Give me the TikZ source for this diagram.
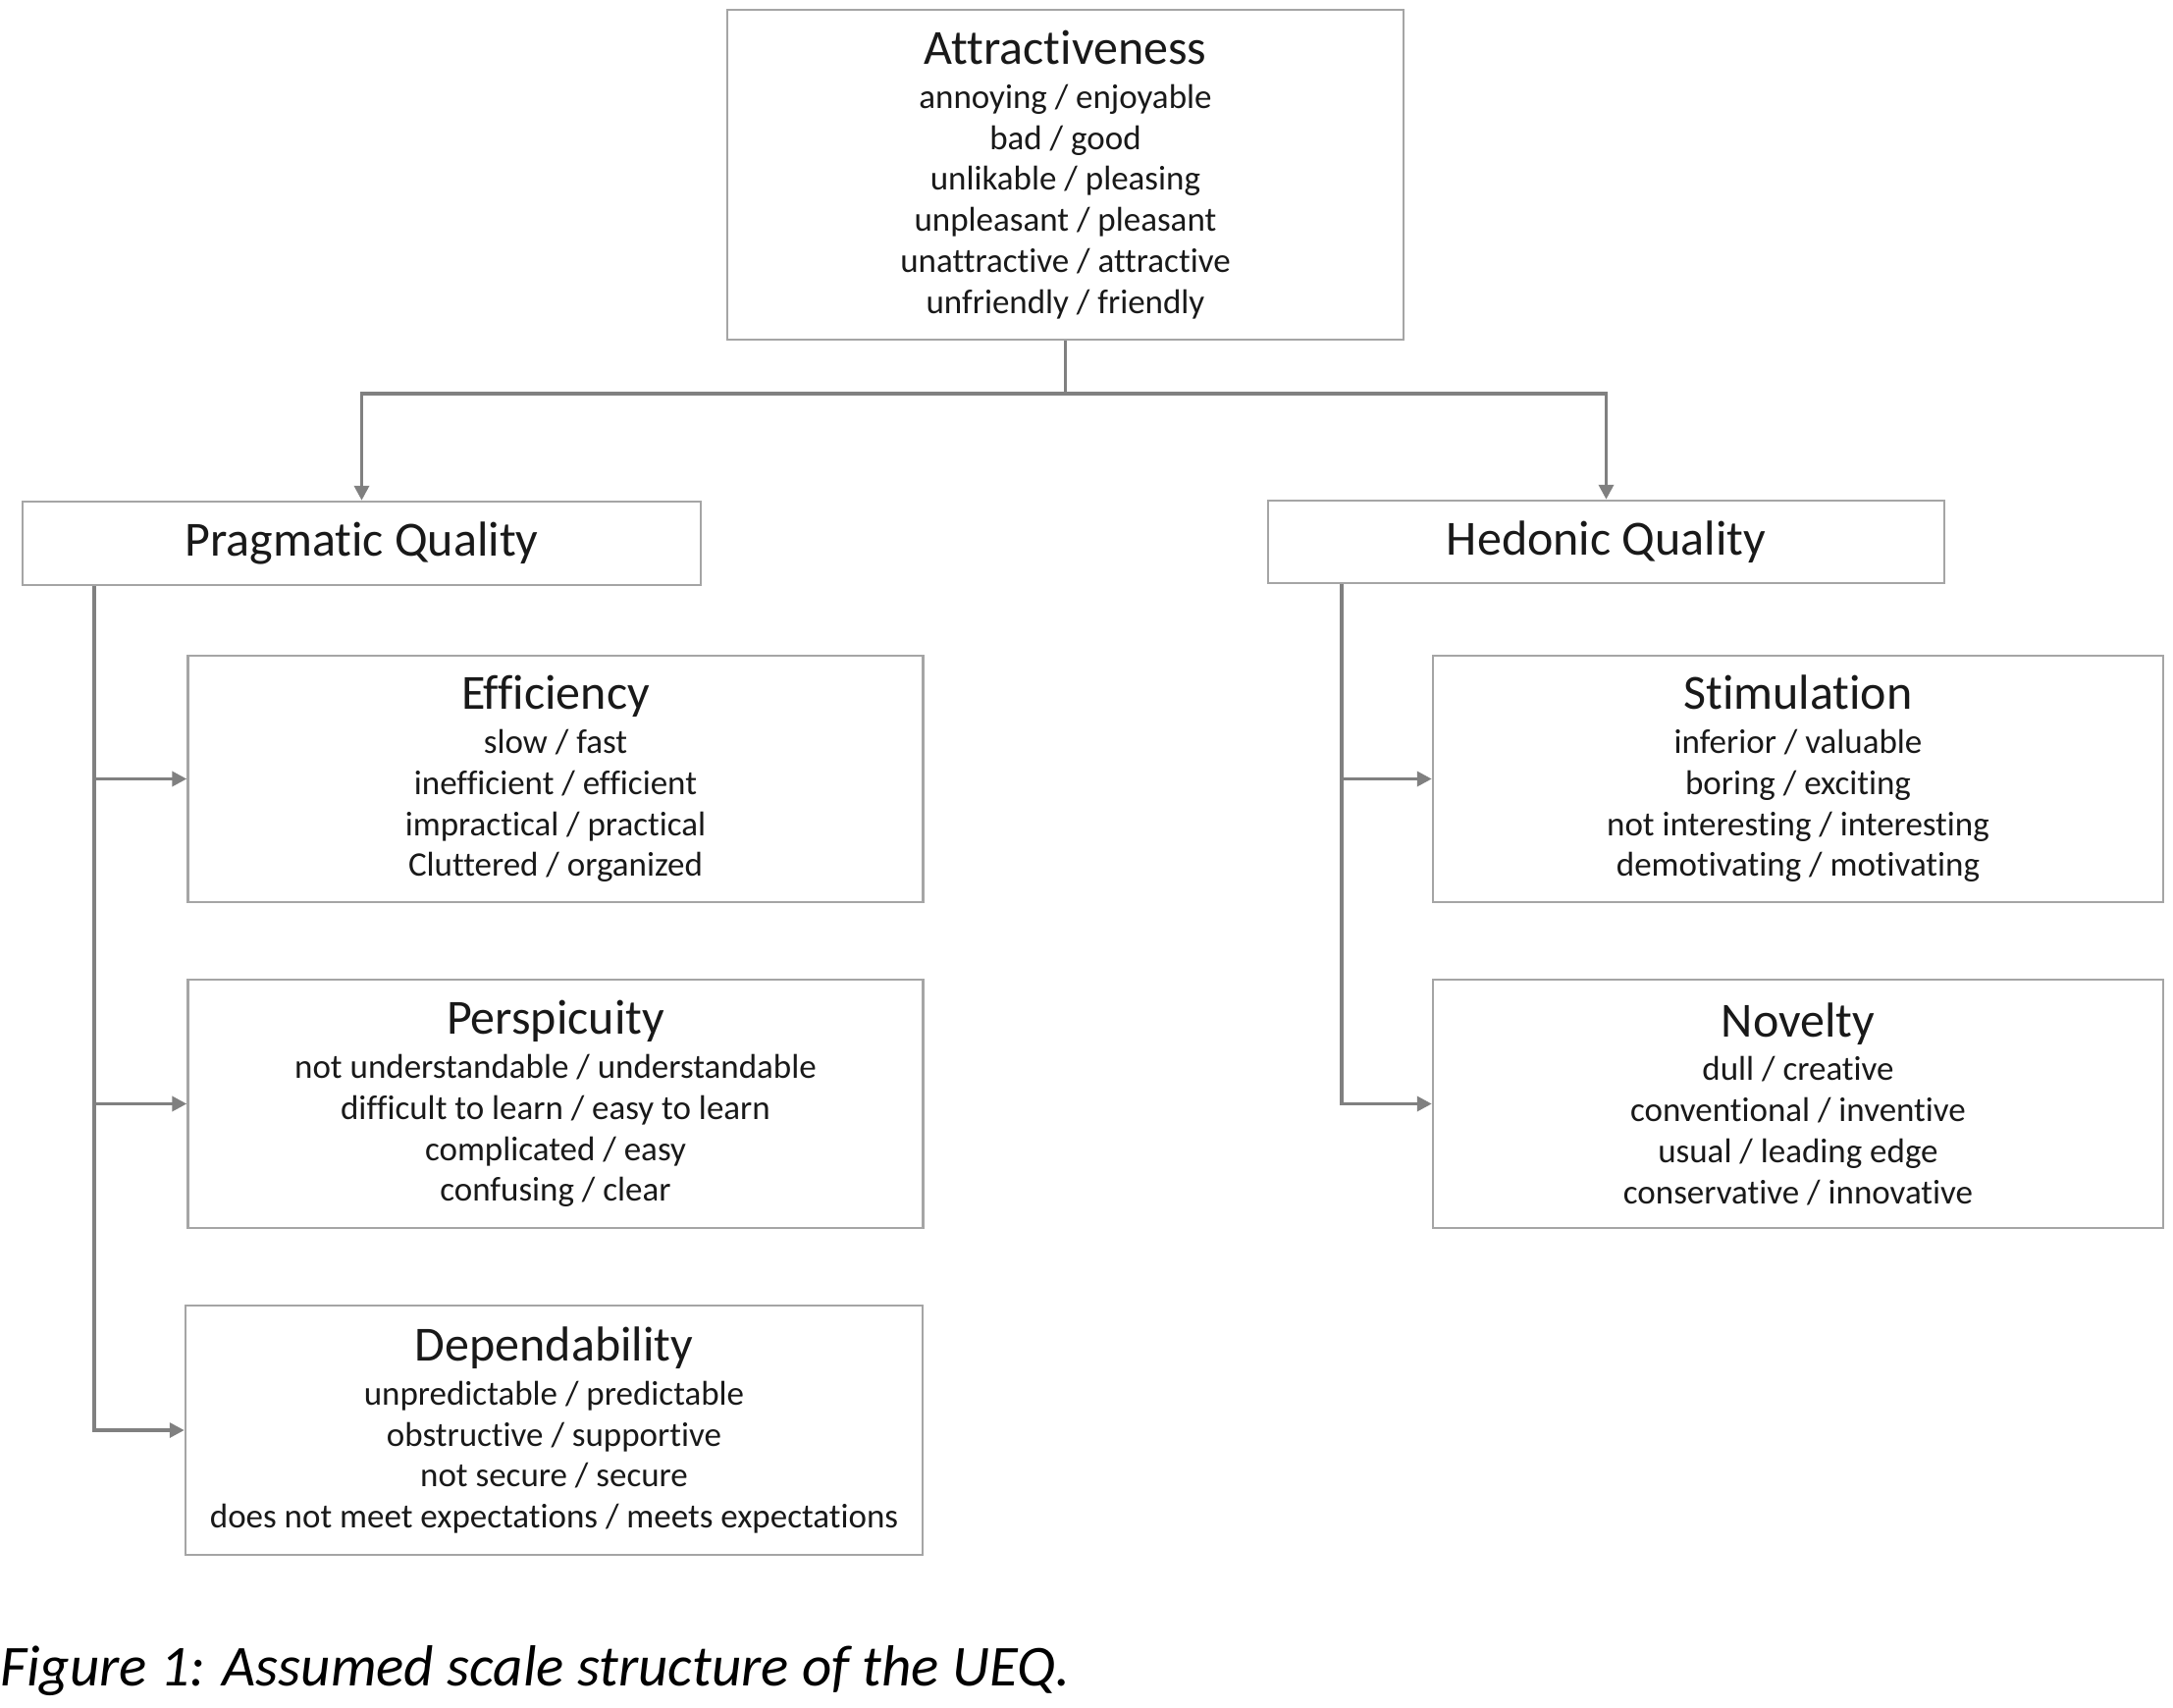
\documentclass[tikz,border=0pt]{standalone}
\usepackage{fontspec}
\setmainfont[Ligatures=NoCommon]{Carlito}
\usetikzlibrary{arrows.meta}
\definecolor{boxgray}{RGB}{165,165,165}
\definecolor{linegray}{RGB}{128,128,128}
\newcommand{\ttl}[1]{{\fontsize{50}{54}\selectfont #1}}
\tikzset{
  box/.style={draw=boxgray, line width=2.5pt, fill=white, inner sep=0pt, align=center,
    font=\fontsize{35}{41.8}\selectfont, text=black!90},
  conn/.style={draw=linegray, line width=3.5pt},
  arr/.style={conn, -{Triangle[length=15pt,width=15pt]}},
}
\begin{document}
\begin{tikzpicture}[x=1pt,y=-1pt]
\useasboundingbox (0,0) rectangle (2214,1740);
\fill[white] (0,0) rectangle (2214,1740);

\node[box, minimum width=689, minimum height=336] (attr) at (1085.5,178)
  {\ttl{Attractiveness}\\[3pt] annoying / enjoyable\\ bad / good\\ unlikable / pleasing\\ unpleasant / pleasant\\ unattractive / attractive\\ unfriendly / friendly};

\node[box, minimum width=691, minimum height=85] (prag) at (368.5,553.5) {\ttl{Pragmatic Quality}};
\node[box, minimum width=689, minimum height=84] (hed) at (1636.5,552) {\ttl{Hedonic Quality}};

\node[box, minimum width=749, minimum height=251] (eff) at (566,793.5)
  {\ttl{Efficiency}\\[3pt] slow / fast\\ inefficient / efficient\\ impractical / practical\\ Cluttered / organized};
\node[box, minimum width=749, minimum height=253] (persp) at (566,1124.5)
  {\ttl{Perspicuity}\\[3pt] not understandable / understandable\\ difficult to learn / easy to learn\\ complicated / easy\\ confusing / clear};
\node[box, minimum width=751, minimum height=254] (dep) at (564.5,1457)
  {\ttl{Dependability}\\[3pt] unpredictable / predictable\\ obstructive / supportive\\ not secure / secure\\ does not meet expectations / meets expectations};

\node[box, minimum width=744, minimum height=251] (stim) at (1832,793.5)
  {\ttl{Stimulation}\\[3pt] inferior / valuable\\ boring / exciting\\ not interesting / interesting\\ demotivating / motivating};
\node[box, minimum width=744, minimum height=253] (nov) at (1832,1124.5)
  {\ttl{Novelty}\\[3pt] dull / creative\\ conventional / inventive\\ usual / leading edge\\ conservative / innovative};

\coordinate (j) at (1085.5,401);
\coordinate (pvx) at (96,0);
\coordinate (hvx) at (1367,0);

\draw[conn] (attr.south) -- (j);
\draw[arr] (j) -| (prag.north);
\draw[arr] (j) -| (hed.north);

\draw[arr] (prag.south -| pvx) |- (dep.west);
\draw[arr] (eff.west -| pvx) -- (eff.west);
\draw[arr] (persp.west -| pvx) -- (persp.west);

\draw[arr] (hed.south -| hvx) |- (nov.west);
\draw[arr] (stim.west -| hvx) -- (stim.west);

\node[anchor=west, inner sep=0pt, font=\fontsize{59}{64}\selectfont\itshape] (cap) at (0,1702)
  {Figure 1: Assumed scale structure of the UEQ.};
\end{tikzpicture}
\end{document}
